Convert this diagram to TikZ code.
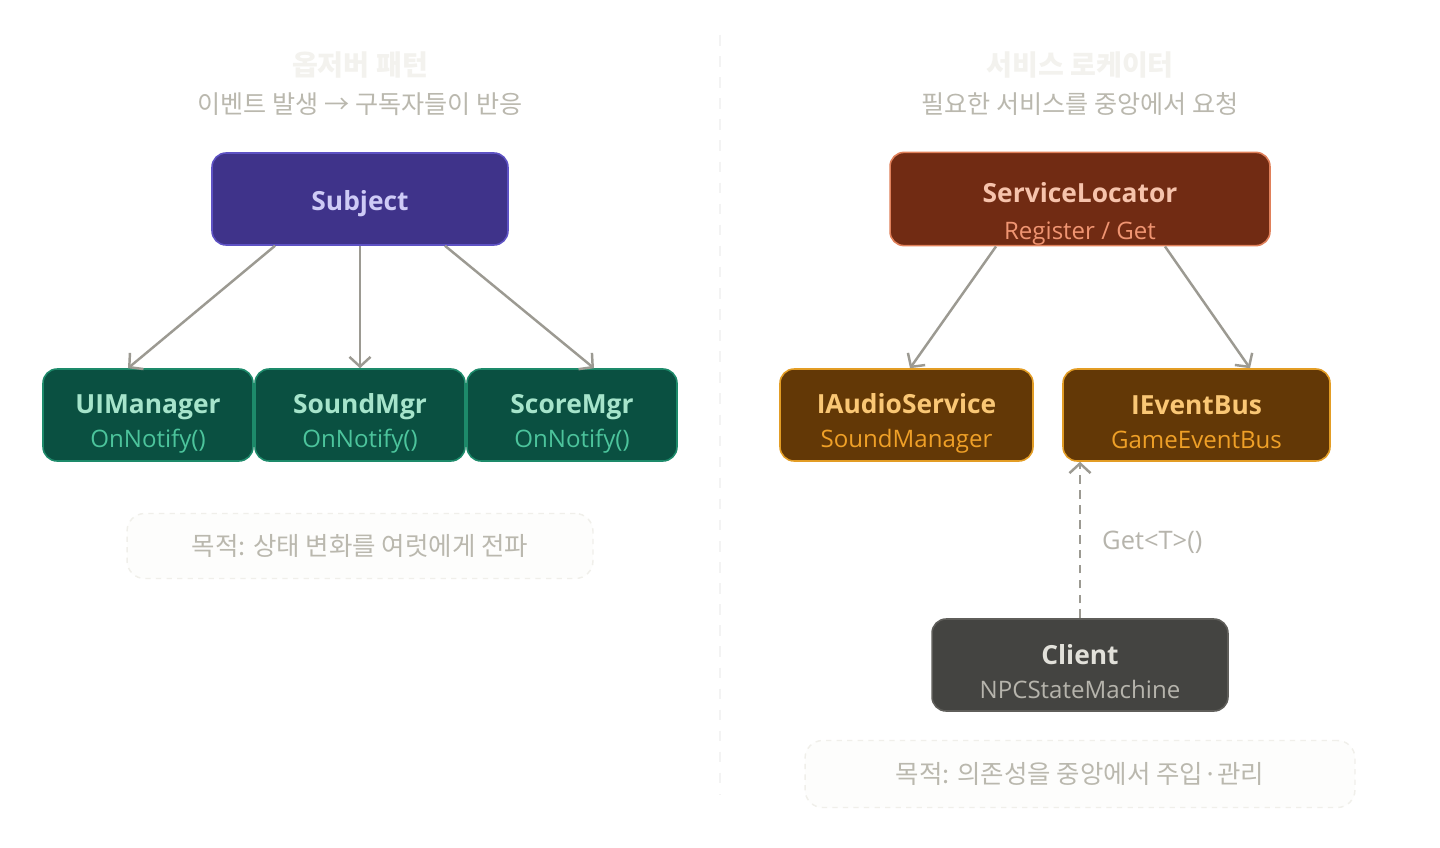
\documentclass[tikz,border=0pt]{standalone}
\usepackage{fontspec}
\setmainfont{Open Sans}
\newfontfamily\kr{Noto Sans CJK KR}
\usetikzlibrary{arrows.meta}

\definecolor{bgpaper}{HTML}{FFFFFF}
\definecolor{faintttl}{HTML}{F3F2EE}
\definecolor{subgray}{HTML}{BAB8AE}
\definecolor{divline}{HTML}{F3F3F3}
\definecolor{linkgray}{HTML}{9C9A92}
% 박스 색
\definecolor{subjfill}{HTML}{3F338A}
\definecolor{subjline}{HTML}{5E52C4}
\definecolor{subjtext}{HTML}{CECBF6}
\definecolor{obsfill}{HTML}{0A5041}
\definecolor{obsline}{HTML}{1D8A6A}
\definecolor{obstext}{HTML}{A6E4CB}
\definecolor{obssub}{HTML}{4CC49C}
\definecolor{locfill}{HTML}{712B13}
\definecolor{locline}{HTML}{E0805A}
\definecolor{loctext}{HTML}{F6C3AC}
\definecolor{locsub}{HTML}{F09572}
\definecolor{svcfill}{HTML}{633806}
\definecolor{svcline}{HTML}{E39D25}
\definecolor{svctext}{HTML}{FAC775}
\definecolor{svcsub}{HTML}{EFA027}
\definecolor{clifill}{HTML}{444441}
\definecolor{cliline}{HTML}{5F5E5A}
\definecolor{clitext}{HTML}{E2E1DA}
\definecolor{clisub}{HTML}{B6B4AC}
\definecolor{notefill}{HTML}{FDFDFC}
\definecolor{noteline}{HTML}{F0EFEA}

% 제목 + 부제목 두 줄
\newcommand{\boxtxt}[5][21pt]{\rule{0pt}{#1}{\bfseries\color{#2}#3}\\
  {\fontsize{13.7}{16}\selectfont\color{#4}#5}\rule[-2pt]{0pt}{2pt}}

\begin{document}
\begin{tikzpicture}[x=0.02cm, y=-0.02cm,
    >={Straight Barb[length=5.5pt,width=12pt,line width=1.4pt]},
    box/.style={rounded corners=8pt, line width=0.9pt, align=center,
      inner sep=0pt, minimum height=1.84cm, font=\fontsize{15}{19.5}\selectfont},
    link/.style={->, draw=linkgray, line width=1.4pt},
    note/.style={draw=noteline, fill=notefill, dashed, rounded corners=10pt,
      line width=0.8pt, text=subgray, font=\kr\fontsize{14.5}{17}\selectfont},
    head/.style={font=\kr\fontsize{16}{19}\selectfont\bfseries, text=faintttl},
    subhead/.style={font=\kr\fontsize{14.3}{17}\selectfont, text=subgray}]
  \useasboundingbox[fill=bgpaper] (0,0) rectangle (1440,848);

  % 가운데 구분선
  \draw[divline, line width=1pt, dash pattern=on 6pt off 6pt] (720,35) -- (720,795);

  % 옵저버 패턴
  \node[head] (obstitle) at (360,65) {옵저버 패턴};
  \node[subhead] (obssubtitle) at (360,104) {이벤트 발생 → 구독자들이 반응};

  \node[box, fill=subjfill, draw=subjline, minimum width=5.92cm, text=subjtext,
    font=\fontsize{15}{19}\selectfont\bfseries] (subject) at (360,199)
    {\rule{0pt}{16.5pt}Subject};

  \node[box, fill=obsfill, draw=obsline, minimum width=4.2cm] (uimgr) at (148,415)
    {\boxtxt{obstext}{UIManager}{obssub}{OnNotify()}};
  \node[box, fill=obsfill, draw=obsline, minimum width=4.2cm] (soundmgr) at (360,415)
    {\boxtxt{obstext}{SoundMgr}{obssub}{OnNotify()}};
  \node[box, fill=obsfill, draw=obsline, minimum width=4.2cm] (scoremgr) at (572,415)
    {\boxtxt{obstext}{ScoreMgr}{obssub}{OnNotify()}};

  \draw[link] ([xshift=-1.7cm]subject.south) -- ([xshift=-0.4cm]uimgr.north);
  \draw[link] (subject.south) -- (soundmgr.north);
  \draw[link] ([xshift=1.7cm]subject.south) -- ([xshift=0.44cm]scoremgr.north);

  \node[note, minimum width=9.32cm, minimum height=1.3cm] (obsnote) at (360,546)
    {목적: 상태 변화를 여럿에게 전파};

  % 서비스 로케이터
  \node[head] (loctitle) at (1080,65) {서비스 로케이터};
  \node[subhead] (locsubtitle) at (1080,104) {필요한 서비스를 중앙에서 요청};

  \node[box, fill=locfill, draw=locline, minimum width=7.6cm,
    font=\fontsize{15}{21.5}\selectfont] (locator) at (1080,199)
    {\boxtxt[28.3pt]{loctext}{ServiceLocator}{locsub}{Register / Get}};

  \node[box, fill=svcfill, draw=svcline, minimum width=5.06cm] (audiosvc) at (906.5,415)
    {\boxtxt{svctext}{IAudioService}{svcsub}{SoundManager}};
  \node[box, fill=svcfill, draw=svcline, minimum width=5.34cm] (eventbus) at (1196.5,415)
    {\boxtxt{svctext}{IEventBus}{svcsub}{GameEventBus}};

  \draw[link] ([xshift=-1.68cm]locator.south) -- ([xshift=0.07cm]audiosvc.north);
  \draw[link] ([xshift=1.7cm]locator.south) -- ([xshift=1.07cm]eventbus.north);

  \node[box, fill=clifill, draw=cliline, minimum width=5.92cm] (client) at (1080,665)
    {\boxtxt{clitext}{Client}{clisub}{NPCStateMachine}};

  \draw[link, dash pattern=on 5pt off 3.5pt] (client.north) -- (client.north |- eventbus.south);
  \node[anchor=west, text=clisub, font=\fontsize{14.5}{17}\selectfont] (getlabel)
    at (1096,542) {Get<T>()};

  \node[note, minimum width=11cm, minimum height=1.34cm] (locnote) at (1080,774)
    {목적: 의존성을 중앙에서 주입·관리};
\end{tikzpicture}
\end{document}
